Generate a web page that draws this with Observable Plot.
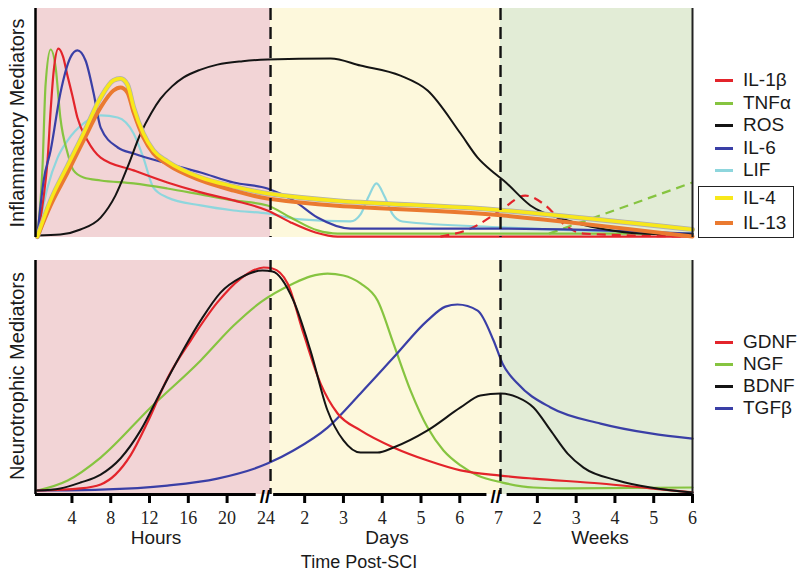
<!DOCTYPE html>
<html><head><meta charset="utf-8">
<script src="https://cdn.jsdelivr.net/npm/d3@7"></script>
<script src="https://cdn.jsdelivr.net/npm/@observablehq/plot@0.6"></script>
<style>
html,body{margin:0;padding:0;background:#fff;}
#wrap{position:relative;width:799px;height:574px;overflow:hidden;font-family:"Liberation Sans",Arial,sans-serif;color:#1a1a1a;}
.abs{position:absolute;}
.plot svg{display:block;background:transparent !important;overflow:visible;max-width:none !important;}
#bottomPlot g[aria-label="x-axis"] line,
#bottomPlot g[aria-label="x-axis"] path,
#bottomPlot g[aria-label="x-axis tick"] path{stroke:#000 !important;stroke-width:3px !important;}
.ylab{position:absolute;white-space:nowrap;font-size:20px;transform:translate(-50%,-50%) rotate(-90deg);}
.xlab{position:absolute;white-space:nowrap;transform:translate(-50%,-50%);}
.leg{position:absolute;left:715px;height:22px;line-height:22px;font-size:19px;white-space:nowrap;}
.leg .sw{position:absolute;left:0;width:18px;top:50%;}
.leg .tx{position:absolute;left:28px;top:0;}
.box{position:absolute;border:1.5px solid #222;}
</style></head>
<body><div id="wrap"></div>
<script>
// Unified time position u: hours -> h/4 (0..6), days -> 6+(d-1) (6..12), weeks -> 12+(w-1) (12..17)
const hourTicks = [4, 8, 12, 16, 20, 24];
const dayTicks = [2, 3, 4, 5, 6, 7];
const weekTicks = [2, 3, 4, 5, 6];
const phases = ["Hours", "Days", "Weeks"];
const phaseStart = [0.06, 6.12, 12.05];
const phaseEnd = [6.12, 12.05, 17];
const breaks = [5.98, 11.93];

// Inflammatory mediators [u, level 0-100]
const IL1b = [[0.11,0.9],[0.29,20.5],[0.37,33.6],[0.45,55.5],[0.53,72.9],[0.65,82.5],[0.77,79],[0.88,71],[1.01,62.0],[1.14,52.4],[1.40,42.4],[1.74,34.9],[2.59,29.3],[3.46,24.0],[4.32,19.7],[5.17,16.2],[6.04,11.8],[6.64,6.6],[7.28,2.2],[7.85,0.4],[17,0.4]];
const IL1bLate = [[10.5,0.4],[11.28,3.9],[12.05,11.8],[12.69,18.3],[13.21,14.0],[13.73,5.2],[14.19,1.7],[17,0.4]];
const TNFa = [[0.11,0.9],[0.24,30.6],[0.32,66.8],[0.45,82.1],[0.58,74.2],[0.70,52.4],[0.89,36.7],[1.04,29.3],[1.30,26.2],[1.74,24.9],[2.59,23.6],[3.46,21.4],[4.32,18.8],[5.17,16.2],[6.04,14.0],[6.64,8.7],[7.33,3.1],[7.85,1.7],[17,1.7]];
const TNFaLate = [[13.3,1.7],[17,24.0]];
const ROS = [[0.11,0.9],[0.70,1.3],[1.22,3.5],[1.74,8.7],[2.12,18.3],[2.43,30.6],[2.77,45.4],[3.05,54.5],[3.28,60.5],[3.58,66.0],[3.88,69.9],[4.3,73.2],[4.75,75.5],[5.4,77.0],[6.04,77.7],[7.67,78.2],[8.44,75.1],[9.47,70.7],[10.17,64.2],[11.02,45.4],[11.46,34.9],[11.87,28.4],[12.13,24.9],[12.82,14.0],[13.78,7.4],[14.63,3.9],[15.66,1.7],[17,1.3]];
const IL6 = [[0.11,0.9],[0.27,24.9],[0.45,38.0],[0.70,62.9],[0.96,78.6],[1.14,81.7],[1.35,77.3],[1.56,62.9],[1.74,48.0],[2.18,39.3],[2.59,36.7],[3.46,32.3],[4.32,28.4],[5.17,24.0],[6.04,21.4],[6.71,16.2],[7.33,8.7],[8.18,3.9],[12.13,3.9],[17,1.7]];
const LIF = [[0.11,0.9],[0.37,21.8],[0.63,34.9],[0.89,42.4],[1.30,49.8],[1.74,53.3],[2.18,52.4],[2.59,45.4],[2.84,34.9],[3.10,21.8],[3.46,17.5],[4.32,14.0],[5.17,11.8],[6.04,10.5],[6.89,7.9],[8.18,7.0],[8.44,10.1],[8.65,17.9],[8.85,23.6],[9.06,17.9],[9.27,10.1],[9.52,7.0],[12.13,4.4],[17,1.7]];
const IL4 = [[0.11,0.4],[0.45,16.2],[0.89,31.4],[1.30,45.4],[1.74,61.1],[2.07,68.6],[2.25,69.4],[2.43,66.8],[2.59,56.8],[2.84,45.4],[3.10,38.0],[3.46,33.2],[4.32,26.2],[5.17,22.3],[6.04,19.2],[12.13,11.8],[17,3.5]];
const IL13 = [[0.11,0.4],[0.45,14.0],[0.89,28.4],[1.30,42.4],[1.74,56.8],[2.07,64.2],[2.25,65.5],[2.43,63.3],[2.59,54.6],[2.84,43.7],[3.10,36.7],[3.46,31.9],[4.32,24.9],[5.17,20.5],[6.04,17.0],[12.13,9.6],[17,0.4]];

// Neurotrophic mediators [u, level 0-100]
const GDNF = [[0.11,1.7],[1.22,2.6],[1.74,4.3],[2.12,8.5],[2.51,16.7],[2.97,31.6],[3.46,49.6],[4.06,65.8],[4.75,82.1],[5.35,92.3],[5.94,97.0],[6.17,96.6],[6.56,90.2],[6.97,68.8],[7.41,47.4],[7.85,34.6],[8.44,27.4],[9.29,20.1],[10.17,14.5],[11.02,10.3],[12.05,8.1],[12.9,6.8],[14.63,4.7],[15.92,2.6],[17,0.9]];
const NGF = [[0.11,1.7],[0.89,6.0],[1.74,15.8],[3.03,37.2],[4.32,57.3],[5.17,72.2],[5.86,82.1],[6.71,90.2],[7.15,93.2],[7.59,94.4],[8.0,93.6],[8.44,90.2],[8.88,82.9],[9.29,64.5],[9.73,44.4],[10.17,28.6],[10.58,18.8],[11.02,12.4],[11.46,8.1],[12.1,5.1],[12.9,3.0],[13.78,2.6],[17,3.0]];
const BDNF = [[0.11,1.7],[0.70,2.6],[1.22,5.1],[1.74,8.5],[2.25,15.4],[2.77,27.4],[3.28,43.6],[3.79,59.4],[4.32,74.4],[4.83,86.3],[5.35,92.7],[5.91,95.7],[6.17,95.3],[6.71,82.9],[7.15,61.5],[7.59,35.9],[8.0,23.1],[8.44,17.9],[8.88,17.9],[9.29,20.1],[10.17,27.4],[11.02,37.2],[11.53,42.3],[12.05,43.2],[12.49,41.5],[12.9,37.2],[13.34,27.4],[13.78,17.5],[14.19,11.5],[15.07,6.0],[15.92,3.0],[17,0.9]];
const TGFb = [[0.11,1.7],[1.74,2.1],[3.46,3.8],[4.75,6.8],[6.04,13.2],[6.71,18.8],[7.59,28.6],[8.44,43.2],[9.29,58.5],[10.17,74.4],[10.63,80.3],[10.94,81.2],[11.46,78.6],[11.87,65.8],[12.1,56.0],[12.49,47.4],[13.34,37.2],[14.63,30.3],[15.92,26.1],[17,23.9]];

const topNames = ["IL-1β","TNFα","ROS","IL-6","LIF","IL-4","IL-13"];
const bottomNames = ["GDNF","NGF","BDNF","TGFβ"];

// ---- styles ----
const BG = {Hours:"#f2d4d6", Days:"#fdf8dc", Weeks:"#e2ecd6"};
const COL = {red:"#e3242b", green:"#86c440", black:"#141414", blue:"#3a3fa6", cyan:"#8ed6dd", yellow:"#f8e81a", orange:"#ea7a30", gray:"#b0b0b0"};
const SERIF = "Liberation Serif, Times New Roman, DejaVu Serif, serif";
const W = 799, ML = 35, MR = 107;

const phaseRows = phases.map((p,i)=>({name:p, start:phaseStart[i], end:phaseEnd[i]}));
const bounds = [phaseStart[1], phaseStart[2]];
const line = (data, stroke, w, extra={}) => Plot.line(data, {x:d=>d[0], y:d=>d[1], stroke, strokeWidth:w, curve:"monotone-x", strokeLinejoin:"round", strokeLinecap:"round", ...extra});
const frameMarks = () => [
  Plot.rect(phaseRows, {x1:"start", x2:"end", y1:()=>0, y2:()=>100, fill:d=>BG[d.name]})
];
const edgeMarks = () => [
  Plot.ruleX(bounds, {x:d=>d, stroke:"#111", strokeWidth:2.4, strokeDasharray:"12,7"}),
  Plot.ruleX([phaseStart[0]], {x:d=>d, stroke:"#000", strokeWidth:2.5}),
  Plot.ruleX([phaseEnd[2]], {x:d=>d, stroke:"#222", strokeWidth:2})
];

const topPlot = Plot.plot({
  width: W, height: 245, marginLeft: ML, marginRight: MR, marginTop: 8, marginBottom: 8,
  x: {domain:[phaseStart[0], phaseEnd[2]], axis:null}, y: {domain:[0,100], axis:null},
  marks: [
    ...frameMarks(),
    line(LIF, COL.cyan, 2.2),
    line(TNFa, COL.green, 2.2),
    line(TNFaLate, COL.green, 2.2, {strokeDasharray:"9,6", strokeLinecap:"butt"}),
    line(IL1b, COL.red, 2.2),
    line(IL1bLate, COL.red, 2.2, {strokeDasharray:"9,6", strokeLinecap:"butt"}),
    line(IL6, COL.blue, 2.2),
    line(ROS, COL.black, 2),
    line(IL4, COL.gray, 5),
    line(IL13, COL.orange, 4),
    line(IL4, COL.yellow, 3.5),
    ...edgeMarks()
  ]
});

const hourPos = h => h/4, dayPos = d => 6 + (d-1), weekPos = w => 12 + (w-1);
const tickLabels = [
  ...hourTicks.map(h=>({u:hourPos(h), t:String(h)})),
  ...dayTicks.map(d=>({u:dayPos(d), t:String(d)})),
  ...weekTicks.map(w=>({u:weekPos(w), t:String(w)}))
];
// no tick line under the broken-axis labels (24 h, 7 d)
const tickLines = tickLabels.filter(d => !(d.u === hourPos(24) || d.u === dayPos(7))).map(d=>d.u);
const axisSegs = [{a:phaseStart[0], b:5.75},{a:6.2, b:11.7},{a:12.22, b:phaseEnd[2]}];

const bottomPlot = Plot.plot({
  width: W, height: 324, marginLeft: ML, marginRight: MR, marginTop: 10, marginBottom: 80,
  style: {fontFamily: SERIF, fontSize: "18px", color: "#000"},
  x: {domain:[phaseStart[0], phaseEnd[2]], axis:"bottom", ticks: tickLines, tickSize: 9, tickPadding: 0, tickFormat: () => "", label: null},
  y: {domain:[0,100], axis:null},
  marks: [
    ...frameMarks(),
    line(NGF, COL.green, 2.2),
    line(TGFb, COL.blue, 2.2),
    line(GDNF, COL.red, 2.2),
    line(BDNF, COL.black, 2),
    ...edgeMarks(),
    Plot.ruleY(axisSegs, {x1:"a", x2:"b", y:()=>0, stroke:"#000", strokeWidth:3.2}),
    Plot.text(tickLabels, {x:"u", y:()=>0, dy:24, text:"t", fontFamily:SERIF, fontSize:18, fill:"#222"}),
    Plot.text(breaks, {x:d=>d, y:()=>0, dy:2, text:()=>"//", fontFamily:"Liberation Sans", fontWeight:"bold", fontSize:19, fill:"#000"})
  ]
});

const wrap = document.getElementById("wrap");
const add = (el, css) => { Object.assign(el.style, css); wrap.appendChild(el); return el; };
const d1 = document.createElement("div"); d1.className = "abs plot"; d1.appendChild(topPlot); add(d1, {left:"0px", top:"0px", width:W+"px"});
const d2 = document.createElement("div"); d2.className = "abs plot"; d2.id = "bottomPlot"; d2.appendChild(bottomPlot); add(d2, {left:"0px", top:"250px", width:W+"px"});

function label(cls, text, x, y, size){ const e=document.createElement("div"); e.className=cls; e.textContent=text; add(e,{left:x+"px", top:y+"px", fontSize:size+"px"}); }
label("ylab","Inflammatory Mediators",17,123,20);
label("ylab","Neurotrophic Mediators",17,376,20);
label("xlab","Hours",156,538,19);
label("xlab","Days",387,538,19);
label("xlab","Weeks",600,538,19);
label("xlab","Time Post-SCI",359,562,18);

const topColors = [COL.red, COL.green, COL.black, COL.blue, COL.cyan, COL.yellow, COL.orange];
const topRowY = [80,103,125,148,170,198,223];
const botColors = [COL.red, COL.green, COL.black, COL.blue];
const botRowY = [342,364,386,408];
function legend(names, colors, ys, thick){
  names.forEach((n,i)=>{
    const e=document.createElement("div"); e.className="leg";
    const s=document.createElement("span"); s.className="sw"; const t=thick(i);
    s.style.borderTop=t+"px solid "+colors[i]; s.style.marginTop=(-t/2)+"px";
    const x=document.createElement("span"); x.className="tx"; x.textContent=n;
    e.appendChild(s); e.appendChild(x); add(e,{top:(ys[i]-11)+"px"});
  });
}
legend(topNames, topColors, topRowY, i => i>=5 ? 4 : 3);
legend(bottomNames, botColors, botRowY, () => 3);
const box=document.createElement("div"); box.className="box"; add(box,{left:"698px", top:"186px", width:"94px", height:"50px"});
</script></body></html>
